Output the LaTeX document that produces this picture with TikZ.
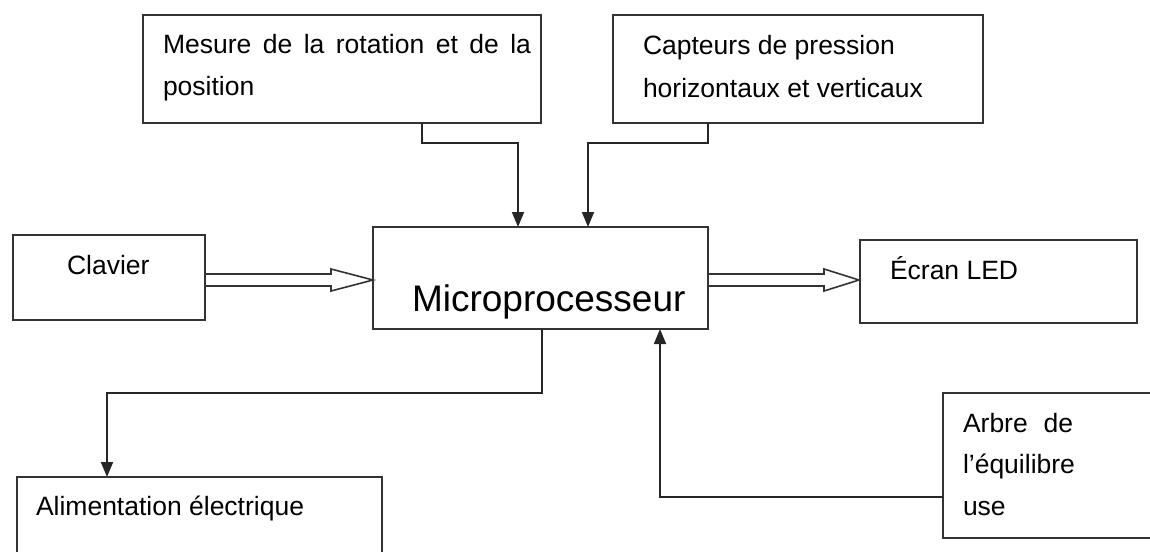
\documentclass[tikz,border=0pt]{standalone}
\usepackage{fontspec}
\setmainfont{Liberation Sans}
\usetikzlibrary{arrows.meta,calc}
\begin{document}
\begin{tikzpicture}[x=1pt,y=-1pt,
  box/.style={draw=black!80, line width=1.8pt, anchor=north west, inner sep=0pt, outer sep=0pt},
  lbl/.style={anchor=base west, inner sep=0pt, outer sep=0pt, font=\fontsize{26.5}{42}\selectfont},
  conn/.style={draw=black!85, line width=1.8pt, -{Triangle[length=15pt,width=12pt]}},
  dbl/.style={draw=black!80, line width=1.6pt, line join=miter}]
\useasboundingbox (0,0) rectangle (1150,551);
\clip (0,0) rectangle (1150,551);
% boxes
\node[box, minimum width=398pt, minimum height=108pt] (mes) at (143,15) {};
\node[box, minimum width=370pt, minimum height=108pt] (cap) at (613,15) {};
\node[box, minimum width=192pt, minimum height=85pt] (cla) at (13,235) {};
\node[box, minimum width=335pt, minimum height=102pt] (mic) at (373,227) {};
\node[box, minimum width=277pt, minimum height=83pt] (ecr) at (860,240) {};
\node[box, minimum width=365pt, minimum height=100pt] (ali) at (17,477) {};
\node[box, minimum width=230pt, minimum height=145pt] (arb) at (943,393) {};
% texts
\node[lbl] (mes1) at (163,53) {\makebox[368pt][s]{Mesure de la rotation et de la}};
\node[lbl] (mes2) at (163,95) {position};
\node[lbl] (cap1) at (643,55) {Capteurs de pression};
\node[lbl] (cap2) at (643,97) {horizontaux et verticaux};
\node[lbl] (clat) at (67,274) {Clavier};
\node[lbl] (ecrt) at (890,279) {Écran LED};
\node[lbl, font=\fontsize{37}{44}\selectfont] (mict) at (412,311) {Microprocesseur};
\node[lbl] (alit) at (36,515) {Alimentation électrique};
\node[lbl] (arb1) at (963,432) {\makebox[110pt][s]{Arbre de}};
\node[lbl] (arb2) at (963,473) {l’équilibre};
\node[lbl] (arb3) at (963,515) {use};
% connectors
\draw[conn] ($(mes.south west)+(279,0)$) -- ++(0,20) -| ($(mic.north west)+(145,0)$);
\draw[conn] ($(cap.south west)+(95,0)$) -- ++(0,20) -| ($(mic.north west)+(215,0)$);
\draw[conn] ($(mic.south west)+(169,0)$) -- ++(0,64) -| ($(ali.north west)+(90,0)$);
\draw[conn] ($(arb.north west)+(0,104)$) -| ($(mic.south west)+(287,0)$);
% double arrows
\coordinate (t1) at ($(mic.north west)+(0,53)$);
\coordinate (s1) at (cla.east |- t1);
\draw[dbl] ($(s1)+(0,-6)$) -- ($(t1)+(-42,-6)$) -- ($(t1)+(-42,-11)$) -- (t1) -- ($(t1)+(-42,11)$) -- ($(t1)+(-42,6)$) -- ($(s1)+(0,6)$);
\coordinate (t2) at ($(ecr.north west)+(-1,40)$);
\coordinate (s2) at (mic.east |- t2);
\draw[dbl] ($(s2)+(0,-6)$) -- ($(t2)+(-35,-6)$) -- ($(t2)+(-35,-11)$) -- (t2) -- ($(t2)+(-35,11)$) -- ($(t2)+(-35,6)$) -- ($(s2)+(0,6)$);
\end{tikzpicture}
\end{document}
